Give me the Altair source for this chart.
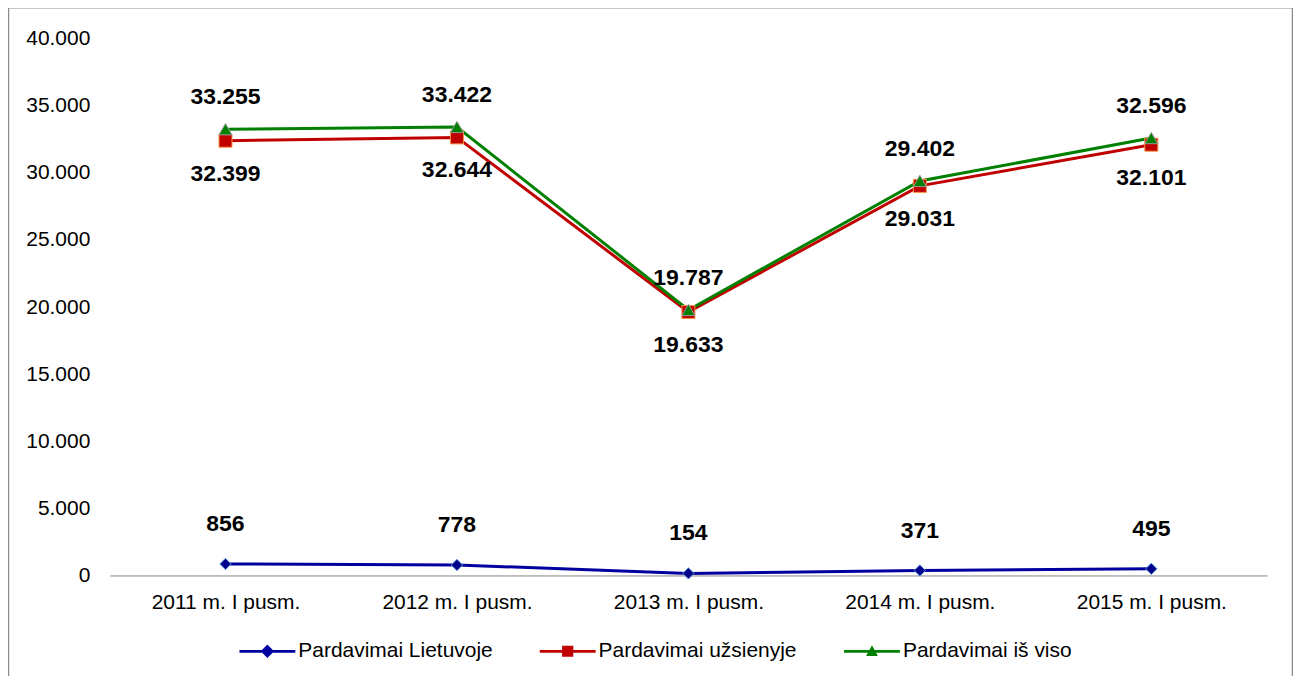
import altair as alt
import pandas as pd

periods = ["2011 m. I pusm.", "2012 m. I pusm.", "2013 m. I pusm.", "2014 m. I pusm.", "2015 m. I pusm."]
series_names = ["Pardavimai Lietuvoje", "Pardavimai užsienyje", "Pardavimai iš viso"]
lietuvoje = [856, 778, 154, 371, 495]
uzsienyje = [32399, 32644, 19633, 29031, 32101]
is_viso = [33255, 33422, 19787, 29402, 32596]

values = [lietuvoje, uzsienyje, is_viso]
line_colors = ["#0000A0", "#C00000", "#008000"]
marker_fill = ["#00008B", "#C00000", "#008000"]
marker_stroke = ["#5B9BD5", "#F79646", "#9A9A9A"]
shapes = ["diamond", "square", "triangle-up"]
sizes = [130, 170, 170]
label_dy = [-40, 33, -32]

FONT = "Liberation Sans"
FS = 21

rows = []
for s, vals in zip(series_names, values):
    for p, v in zip(periods, vals):
        rows.append({"period": p, "series": s, "value": v,
                     "label": f"{v:,}".replace(",", ".")})
df = pd.DataFrame(rows)

x_enc = alt.X("period:N", sort=periods,
              scale=alt.Scale(type="point", padding=0.5, domain=periods),
              axis=alt.Axis(title=None, labelAngle=0, ticks=False, domainColor="#868686",
                            domainWidth=1, labelFont=FONT, labelFontSize=FS, labelColor="#000000",
                            labelPadding=16, grid=False))
y_enc = alt.Y("value:Q", scale=alt.Scale(domain=[0, 40000], nice=False),
              axis=alt.Axis(title=None, values=list(range(0, 40001, 5000)), grid=False,
                            ticks=False, domain=False, labelFont=FONT, labelFontSize=FS,
                            labelColor="#000000", labelPadding=20,
                            labelExpr="replace(format(datum.value, ',d'), ',', '.')"))

base = alt.Chart(df)
layers = []
for i, s in enumerate(series_names):
    sub = base.transform_filter(alt.datum.series == s)
    layers.append(sub.mark_line(color=line_colors[i], strokeWidth=3).encode(x=x_enc, y=y_enc))
for i, s in enumerate(series_names):
    sub = base.transform_filter(alt.datum.series == s)
    layers.append(sub.mark_point(shape=shapes[i], filled=True, fill=marker_fill[i], opacity=1,
                                 stroke=marker_stroke[i], strokeWidth=1, size=sizes[i])
                  .encode(x=x_enc, y=y_enc))
for i, s in enumerate(series_names):
    sub = base.transform_filter(alt.datum.series == s)
    layers.append(sub.mark_text(font=FONT, fontSize=23, fontWeight="bold", color="#000000",
                                dy=label_dy[i], baseline="middle", align="center")
                  .encode(x=x_enc, y=y_enc, text="label:N"))

legend_paths = [
    "M-1,-0.05H1V0.05H-1Z M0,-0.24L0.24,0L0,0.24L-0.24,0Z",
    "M-1,-0.05H1V0.05H-1Z M-0.2,-0.2H0.2V0.2H-0.2Z",
    "M-1,-0.05H1V0.05H-1Z M0,-0.22L0.21,0.17H-0.21Z",
]
legend_kw = dict(title=None, orient="none", legendX=130, legendY=586,
                 direction="horizontal", symbolSize=3136, symbolStrokeWidth=0,
                 labelFont=FONT, labelFontSize=FS, labelColor="#000000", labelOffset=3,
                 columnPadding=47, symbolOpacity=1, labelLimit=0)
proxy = base.transform_filter("false").mark_point(filled=True, opacity=1).encode(
    x=x_enc, y=y_enc,
    color=alt.Color("series:N", scale=alt.Scale(domain=series_names, range=line_colors),
                    legend=alt.Legend(**legend_kw)),
    shape=alt.Shape("series:N", scale=alt.Scale(domain=series_names, range=legend_paths),
                    legend=alt.Legend(**legend_kw)),
)

frame = alt.Chart(pd.DataFrame({"a": [0]})).mark_rect(fill=None, stroke="#8C8C8C", strokeWidth=1.5).encode(
    x=alt.value(-101.5), x2=alt.value(1185.5), y=alt.value(-31), y2=alt.value(640)
)

chart = alt.layer(frame, *layers, proxy).properties(
    width=1160, height=538,
    padding={"left": 102, "top": 30, "right": 26, "bottom": 100},
    autosize=alt.AutoSizeParams(type="none"),
    background="#FFFFFF",
).configure_view(stroke="transparent", strokeWidth=0)

chart.save("out.html", embed_options={"renderer": "svg", "actions": False})
